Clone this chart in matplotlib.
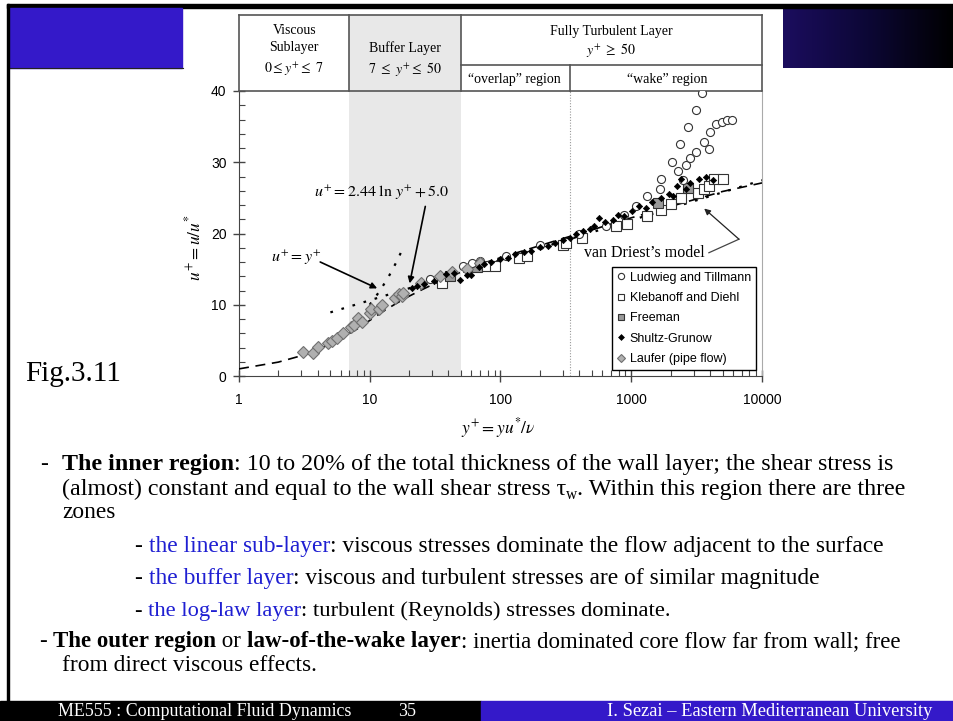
import numpy as np
import matplotlib
matplotlib.use('Agg')
import matplotlib.pyplot as plt
import matplotlib.transforms as mtransforms
from matplotlib.patches import Rectangle
from matplotlib.lines import Line2D
from matplotlib.colors import LinearSegmentedColormap
from matplotlib.ticker import MultipleLocator, LogLocator, NullFormatter

plt.rcParams['mathtext.fontset'] = 'stix'
plt.rcParams['font.family'] = ['Liberation Serif', 'DejaVu Serif']

# ---------------- data ----------------
ludwieg_x = [29, 52, 61, 70, 110, 200, 400, 640, 880, 1080, 1330, 1670, 1680, 2040, 2285,
             2365, 2470, 2620, 2720, 2805, 3120, 3120, 3450, 3575, 3950, 4010, 4440, 4910, 5360, 5860]
ludwieg_y = [13.6, 15.4, 15.9, 16.2, 16.9, 18.4, 20.0, 21.0, 22.6, 23.9, 25.2, 26.2, 27.7, 30.1, 28.8,
             32.6, 27.5, 29.6, 34.9, 30.6, 31.5, 37.3, 39.7, 32.9, 31.8, 34.2, 35.3, 35.7, 35.9, 36.0]

kleb_x = [36, 77, 91, 138, 160, 300, 315, 423, 760, 935, 1330, 1680, 2010, 2393, 3250, 3575, 3950, 4300, 5000]
kleb_y = [13.0, 15.4, 15.4, 16.6, 16.8, 18.4, 18.6, 19.4, 21.0, 21.4, 22.5, 23.3, 24.1, 25.0, 25.7, 26.2, 26.6, 27.6, 27.7]

freeman_x = [41, 66, 1590, 2700]
freeman_y = [14.0, 15.3, 24.3, 26.4]

shultz_x = [21, 23, 26, 31, 38, 44, 49, 55, 60, 68, 75, 85, 100, 115, 130, 150, 170, 200, 230, 260,
            300, 340, 380, 430, 480, 520, 570, 630, 720, 790, 880, 1020, 1150, 1300, 1450, 1680, 1940,
            2100, 2250, 2393, 2600, 2830, 3300, 3720, 4200]
shultz_y = [12.3, 12.6, 12.9, 13.4, 14.3, 14.5, 13.5, 14.2, 14.2, 15.3, 15.7, 16.0, 16.4, 16.6, 17.1,
            17.4, 17.6, 18.1, 18.3, 18.7, 19.1, 19.4, 19.9, 20.3, 20.6, 21.0, 22.2, 21.6, 21.9, 22.6,
            22.4, 23.1, 23.8, 23.6, 24.4, 25.0, 25.5, 25.3, 26.6, 27.6, 26.2, 27.1, 27.6, 28.0, 27.5]

laufer_x = [3.1, 3.65, 4.0, 4.8, 5.1, 5.6, 6.2, 7.2, 7.6, 8.2, 8.8, 10.0, 10.3, 11.8, 12.5, 15.7,
            16.6, 17.6, 18.0, 24.7, 34.3, 42.6, 55, 70]
laufer_y = [3.3, 3.2, 4.1, 4.7, 4.9, 5.4, 6.1, 6.9, 7.2, 8.1, 7.6, 8.8, 9.4, 9.4, 9.9, 11.0,
            11.5, 11.2, 11.6, 13.0, 14.1, 14.6, 15.0, 15.8]

vd_x = [1, 2, 3, 4, 5, 6, 8, 10, 13, 16, 20, 25, 30, 40, 50, 70, 100, 200, 300, 500, 1000, 2000, 5000, 10000]
vd_y = [1.0, 1.95, 2.85, 3.7, 4.5, 5.3, 6.6, 7.8, 9.2, 10.2, 11.2, 12.1, 12.8, 13.8, 14.6, 15.7,
        16.6, 18.3, 19.3, 20.5, 22.2, 23.8, 25.9, 27.1]

loglaw_x = [5, 10000]
loglaw_y = [8.93, 27.47]

linear_x = [10, 12, 14, 16, 17.6]
linear_y = [10, 12, 14, 16, 17.6]

legend_labels = ['Ludwieg and Tillmann', 'Klebanoff and Diehl', 'Freeman', 'Shultz-Grunow', 'Laufer (pipe flow)']
x_ticks = [1, 10, 100, 1000, 10000]
x_tick_labels = ['1', '10', '100', '1000', '10000']
y_ticks = [0, 10, 20, 30, 40]
y_tick_labels = ['0', '10', '20', '30', '40']

# ---------------- figure / slide decoration ----------------
W, H = 954, 721
fig = plt.figure(figsize=(W / 100, H / 100), dpi=100)
bg = fig.add_axes([0, 0, 1, 1], zorder=0)
BLUE = '#3419c9'
grad = np.linspace(0, 1, 256).reshape(1, -1)
cmap = LinearSegmentedColormap.from_list('g', ['#1b0d5e', '#0c0735', '#000000'])
bg.imshow(grad, extent=(783, W, 68, 7.5), cmap=cmap, aspect='auto', zorder=1)
bg.add_patch(Rectangle((7, 4), W - 7, 3.5, color='black', zorder=2))
bg.add_patch(Rectangle((9.5, 7.5), 173, 60.5, color=BLUE, zorder=2))
bg.plot([9.5, 183], [68, 68], color='#222', lw=0.8, zorder=2)
bg.add_patch(Rectangle((7, 4), 2.5, 698, color='black', zorder=2))
bg.add_patch(Rectangle((0, 701), 481, 20, color='black', zorder=2))
bg.add_patch(Rectangle((481, 701), W - 481, 20, color=BLUE, zorder=2))
bg.set_xlim(0, W)
bg.set_ylim(H, 0)
bg.axis('off')

# ---------------- main axes ----------------
L, R, T, B = 239, 762, 91, 376
ax = fig.add_axes([L / W, 1 - B / H, (R - L) / W, (B - T) / H], zorder=2)
ax.set_xscale('log')
ax.set_xlim(1, 10000)
ax.set_ylim(0, 40)

ax.set_xticks(x_ticks)
ax.set_xticklabels(x_tick_labels)
ax.xaxis.set_minor_locator(LogLocator(base=10, subs=np.arange(2, 10)))
ax.xaxis.set_minor_formatter(NullFormatter())
ax.set_yticks(y_ticks)
ax.set_yticklabels(y_tick_labels)
ax.yaxis.set_minor_locator(MultipleLocator(2))
ax.tick_params(which='major', direction='inout', length=8, width=1, color='#444', labelsize=10, pad=5)
ax.tick_params(which='minor', direction='in', length=4, width=0.8, color='#444')
ax.tick_params(axis='x', which='major', pad=8)
for lab in ax.get_xticklabels() + ax.get_yticklabels():
    lab.set_family('Liberation Sans')
for s in ['left', 'bottom']:
    ax.spines[s].set_color('#444')
ax.spines['right'].set_color('#aaaaaa')
ax.spines['top'].set_color('#555')
ax.spines['top'].set_linewidth(1.2)

tr = mtransforms.blended_transform_factory(ax.transData, ax.transAxes)


def yf(py):
    return (B - py) / (B - T)


top = yf(15)
row = yf(65)
ax.add_patch(Rectangle((7, 0), 43, top, transform=tr, fc='#e8e8e8', ec='none', zorder=0, clip_on=False))
lc = '#555'
ax.plot([1, 10000], [top, top], transform=tr, color=lc, lw=1.2, clip_on=False)
ax.plot([50, 10000], [row, row], transform=tr, color=lc, lw=1.2, clip_on=False)
for xv in [1, 7, 50, 10000]:
    ax.plot([xv, xv], [1, top], transform=tr, color=lc, lw=1.2, clip_on=False)
ax.plot([340, 340], [1, row], transform=tr, color=lc, lw=1.2, clip_on=False)
ax.plot([340, 340], [0, 1], transform=tr, color='#999', lw=0.8, ls=(0, (1, 1.5)), clip_on=False)

hs = 10
ax.text(np.sqrt(7), yf(31), 'Viscous', transform=tr, ha='center', va='center', fontsize=hs)
ax.text(np.sqrt(7), yf(48), 'Sublayer', transform=tr, ha='center', va='center', fontsize=hs)
ax.text(np.sqrt(7), yf(69), r'$0 \leq y^{+} \leq\ 7$', transform=tr, ha='center', va='center', fontsize=hs)
ax.text(np.sqrt(350), yf(48), 'Buffer Layer', transform=tr, ha='center', va='center', fontsize=hs)
ax.text(np.sqrt(350), yf(69), r'$7\ \leq\ y^{+} \leq\ 50$', transform=tr, ha='center', va='center', fontsize=hs)
ax.text(707, yf(31), 'Fully Turbulent Layer', transform=tr, ha='center', va='center', fontsize=hs)
ax.text(707, yf(50), r'$y^{+}\ \geq\ 50$', transform=tr, ha='center', va='center', fontsize=hs)
ax.text(128, yf(79), '\u201coverlap\u201d region', transform=tr, ha='center', va='center', fontsize=hs)
ax.text(1870, yf(79), '\u201cwake\u201d region', transform=tr, ha='center', va='center', fontsize=hs)

# ---------------- curves ----------------
ax.plot(vd_x, vd_y, color='black', lw=1.2, dashes=(6, 4), zorder=3)
ax.plot(loglaw_x, loglaw_y, color='black', lw=1.6, dashes=(1.2, 4), zorder=3)
ax.plot(linear_x, linear_y, color='black', lw=1.6, dashes=(1.2, 4), zorder=3)

# ---------------- data ----------------
st_lud = dict(ls='none', marker='o', ms=5.8, mfc='white', mec='#333', mew=0.8)
st_kle = dict(ls='none', marker='s', ms=6.5, mfc='white', mec='#333', mew=0.8)
st_fre = dict(ls='none', marker='s', ms=6.5, mfc='#999999', mec='#333', mew=0.8)
st_shu = dict(ls='none', marker='D', ms=3.2, mfc='black', mec='black', mew=0.5)
st_lau = dict(ls='none', marker='D', ms=6, mfc='#b0b0b0', mec='#707070', mew=0.8)
ax.plot(kleb_x, kleb_y, zorder=4, **st_kle)
ax.plot(freeman_x, freeman_y, zorder=4, **st_fre)
ax.plot(ludwieg_x, ludwieg_y, zorder=5, **st_lud)
ax.plot(laufer_x, laufer_y, zorder=5, **st_lau)
ax.plot(shultz_x, shultz_y, zorder=6, **st_shu)

handles = [Line2D([], [], **dict(st_lud, ms=4.5)), Line2D([], [], **dict(st_kle, ms=4.5)),
           Line2D([], [], **dict(st_fre, ms=4.5)), Line2D([], [], **dict(st_shu, ms=3)),
           Line2D([], [], **dict(st_lau, ms=4.5))]
leg = ax.legend(handles, legend_labels, loc='lower right', bbox_to_anchor=(0.9885, 0.021),
                frameon=True, fancybox=False, edgecolor='black', framealpha=1,
                prop={'family': 'Liberation Sans', 'size': 9}, handlelength=0.6, handletextpad=0.4,
                borderpad=0.4, labelspacing=0.67, borderaxespad=0)
leg.get_frame().set_linewidth(1.0)
leg.set_zorder(7)

# ---------------- annotations ----------------
ax.text(12.2, 25.7, r'$u^{+} = 2.44\ \mathrm{ln}\ y^{+} + 5.0$', ha='center', va='center', fontsize=11.5, zorder=8)
ax.annotate('', xy=(20.2, 13.0), xytext=(26.6, 23.8),
            arrowprops=dict(arrowstyle='-|>', color='black', lw=1.2, mutation_scale=9, shrinkA=0, shrinkB=0), zorder=8)
ax.text(2.73, 16.6, r'$u^{+} = y^{+}$', ha='center', va='center', fontsize=11.5, zorder=8)
ax.annotate('', xy=(11.4, 12.3), xytext=(4.18, 16.0),
            arrowprops=dict(arrowstyle='-|>', color='black', lw=1.2, mutation_scale=9, shrinkA=0, shrinkB=0), zorder=8)
ax.text(1268, 17.3, 'van Driest\u2019s model', ha='center', va='center', fontsize=11.5, zorder=8)
ax.plot([3925, 6665], [17.3, 19.2], color='#444', lw=0.9, zorder=8)
ax.annotate('', xy=(3613, 23.5), xytext=(6665, 19.2),
            arrowprops=dict(arrowstyle='-|>', color='#222', lw=0.9, mutation_scale=9, shrinkA=0, shrinkB=0), zorder=8)

ax.text((194 - L) / (R - L), yf(248), r'$u^{+} = u/u^{*}$', transform=ax.transAxes, rotation=90,
        ha='center', va='center', fontsize=12.5)
ax.text((498 - L) / (R - L), yf(428), r'$y^{+} = yu^{*}/\nu$', transform=ax.transAxes,
        ha='center', va='center', fontsize=12.5)

# ---------------- slide text ----------------
bg.text(25, 381, 'Fig.3.11', fontsize=21, va='baseline', ha='left', zorder=3)

renderer = fig.canvas.get_renderer()


def run_width(txt, size, **kw):
    t1 = bg.text(0, 0, '|' + txt + '|', fontsize=size, **kw)
    t2 = bg.text(0, 0, '||', fontsize=size, **kw)
    w = t1.get_window_extent(renderer).width - t2.get_window_extent(renderer).width
    t1.remove()
    t2.remove()
    return w


def split(opt):
    o = dict(opt)
    dy = o.pop('dy', 0)
    sc = o.pop('scale', 1)
    c = o.pop('color', None)
    return o, dy, sc, c


def runs_width(runs, size):
    w = 0
    for txt, opt in runs:
        o, dy, sc, c = split(opt)
        w += run_width(txt, size * sc, **o)
    return w


def draw_runs(x0, yb, runs, size, color='black'):
    x = x0
    for txt, opt in runs:
        o, dy, sc, c = split(opt)
        bg.text(x, yb + dy, txt, fontsize=size * sc, color=c or color, va='baseline', ha='left', zorder=3, **o)
        x += run_width(txt, size * sc, **o)


BOLD = {'weight': 'bold'}
TB = {'color': '#1f1fd2'}
N = {}
# (left x, baseline y, right end x or None, runs)
lines = [
    (62, 470, 893, [('The inner region', BOLD), (': 10 to 20% of the total thickness of the wall layer; the shear stress is', N)]),
    (62, 495, 905, [('(almost) constant and equal to the wall shear stress \u03c4', N), ('w', {'scale': 0.65, 'dy': 4}),
                    ('. Within this region there are three', N)]),
    (62, 518, None, [('zones', N)]),
    (135, 552, 886, [('- ', N), ('the linear sub-layer', TB), (': viscous stresses dominate the flow adjacent to the surface', N)]),
    (135, 584, 820, [('- ', N), ('the buffer layer', TB), (': viscous and turbulent stresses are of similar magnitude', N)]),
    (135, 616, 668, [('- ', N), ('the log-law layer', TB), (': turbulent (Reynolds) stresses dominate.', N)]),
    (40, 647, 902, [('- ', N), ('The outer region', BOLD), (' or ', N), ('law-of-the-wake layer', BOLD),
                    (': inertia dominated core flow far from wall; free', N)]),
    (62, 671, None, [('from direct viscous effects.', N)]),
]
sizes = []
for x0, yb, xe, runs in lines:
    if xe is not None:
        sizes.append(10 * (xe - x0) / runs_width(runs, 10))
mean_size = float(np.mean(sizes))
bg.text(40, 470, '-', fontsize=mean_size, va='baseline', ha='left', zorder=3)
for x0, yb, xe, runs in lines:
    s = 10 * (xe - x0) / runs_width(runs, 10) if xe is not None else mean_size
    draw_runs(x0, yb, runs, s)

foot_l = 'ME555 : Computational Fluid Dynamics'
foot_r = 'I. Sezai \u2013 Eastern Mediterranean University'
fs_l = 10 * (352 - 58) / run_width(foot_l, 10)
fs_r = 10 * (933 - 607) / run_width(foot_r, 10)
bg.text(58, 716, foot_l, fontsize=fs_l, color='white', va='baseline', zorder=3)
bg.text(398, 716, '35', fontsize=fs_l, color='white', va='baseline', zorder=3)
bg.text(607, 716, foot_r, fontsize=fs_r, color='white', va='baseline', zorder=3)

fig.savefig('out.png', dpi=100)
